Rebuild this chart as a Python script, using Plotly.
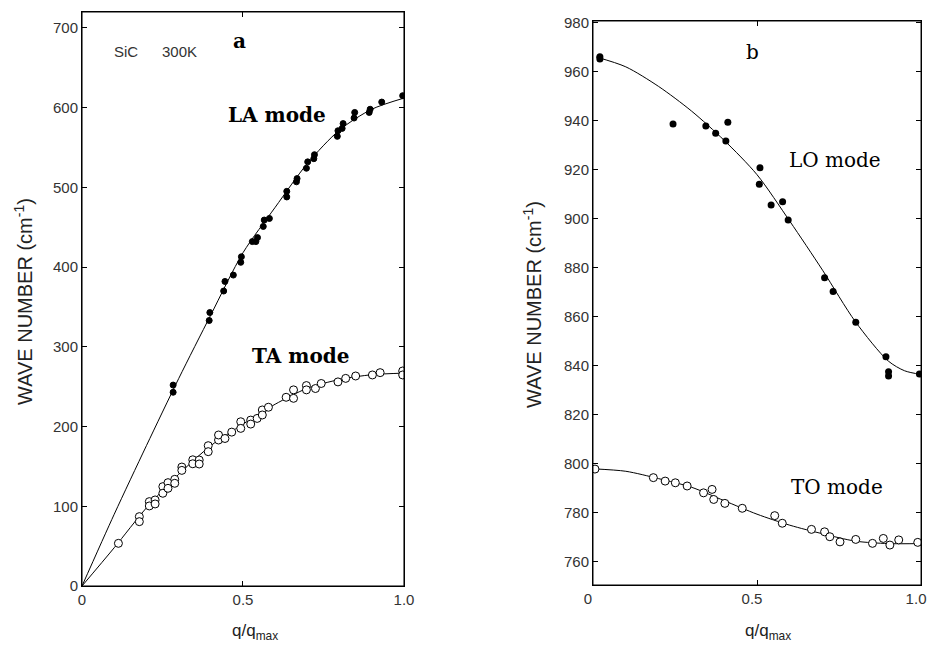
import plotly.graph_objects as go

# ---------------- data: panel a ----------------
la_q = [0.283, 0.283, 0.397, 0.395, 0.44, 0.444, 0.47, 0.493, 0.495, 0.529, 0.54, 0.545,
        0.563, 0.566, 0.582, 0.636, 0.636, 0.666, 0.668, 0.697, 0.701, 0.72, 0.722,
        0.793, 0.795, 0.808, 0.811, 0.845, 0.847, 0.892, 0.895, 0.931, 0.996]
la_v = [252, 243, 343, 333, 370, 382, 390, 406, 413, 432, 432, 437,
        451, 459, 461, 488, 495, 507, 511, 524, 532, 536, 541,
        564, 571, 574, 580, 587, 594, 594, 598, 607, 615]
la_fit_q = [0, 0.1, 0.2, 0.3, 0.4, 0.5, 0.6, 0.7, 0.8, 0.9, 1.0]
la_fit_v = [0, 90, 176, 260, 340, 418, 475, 530, 572, 598, 612]

ta_q = [0.113, 0.178, 0.178, 0.209, 0.209, 0.227, 0.227, 0.251, 0.251, 0.267, 0.267,
        0.288, 0.288, 0.31, 0.31, 0.344, 0.344, 0.364, 0.364, 0.392, 0.392, 0.424, 0.424,
        0.444, 0.465, 0.493, 0.493, 0.524, 0.524, 0.544, 0.56, 0.56, 0.579, 0.634,
        0.657, 0.657, 0.697, 0.697, 0.725, 0.743, 0.795, 0.819, 0.85, 0.902, 0.926,
        0.996, 0.996]
ta_v = [53.5, 87, 80.7, 105.8, 100.4, 107.9, 102.9, 124.6, 116.3, 129.6, 122.5,
        133.8, 128.8, 149.2, 145, 158.3, 153.3, 158, 153, 176, 168.5, 183.1, 189.4,
        185, 193, 206, 197.7, 208.1, 203.1, 210.2, 220.8, 214.5, 224.2, 236.7,
        246, 235.4, 251.4, 246, 247.7, 254, 256, 260.4, 263.4, 264.7, 267.6,
        269.7, 264.7]
ta_fit_q = [0, 0.1, 0.2, 0.3, 0.4, 0.5, 0.6, 0.7, 0.8, 0.9, 1.0]
ta_fit_v = [0, 48, 98, 140, 176, 203, 228, 248, 259, 265, 267]

# ---------------- data: panel b ----------------
lo_q = [0.021, 0.021, 0.244, 0.344, 0.374, 0.405, 0.411, 0.509, 0.507, 0.543, 0.578,
        0.595, 0.706, 0.732, 0.801, 0.893, 0.901, 0.901, 0.995]
lo_v = [966.1, 965.2, 938.7, 937.9, 934.9, 931.7, 939.4, 920.8, 914.1, 905.6, 907,
        899.5, 876, 870.3, 857.8, 843.7, 837.6, 835.9, 836.7]
lo_fit_q = [0.01, 0.1, 0.2, 0.3, 0.4, 0.5, 0.6, 0.7, 0.8, 0.9, 0.95, 1.0]
lo_fit_v = [966, 962, 954, 944, 932, 918, 899, 879, 858, 842, 838, 836.5]

to_q = [0.006, 0.184, 0.22, 0.251, 0.287, 0.337, 0.363, 0.368, 0.402, 0.455, 0.554,
        0.577, 0.666, 0.706, 0.722, 0.753, 0.801, 0.852, 0.885, 0.905, 0.932, 0.99]
to_v = [797.9, 794.4, 793, 792.3, 791, 788.2, 789.6, 785.5, 783.9, 781.9, 778.9,
        775.8, 773.3, 772.3, 770.3, 768.2, 769.2, 767.6, 769.6, 766.9, 769, 768]
to_fit_q = [0, 0.1, 0.2, 0.3, 0.4, 0.5, 0.6, 0.7, 0.8, 0.9, 1.0]
to_fit_v = [798, 797, 794, 790.5, 785, 779.5, 775, 771.5, 768.5, 767.5, 767.5]

x_tickvals = [0, 0.5, 1.0]
x_ticktext = ["0", "0.5", "1.0"]
a_yticks = [0, 100, 200, 300, 400, 500, 600, 700]
b_yticks = [760, 780, 800, 820, 840, 860, 880, 900, 920, 940, 960, 980]
a_yrange = [0, 720]
b_yrange = [750.6, 980.7]
x_range = [0, 1.0]

fig = go.Figure()

line_style = dict(color="black", width=1, shape="spline", smoothing=0.8)
filled = dict(color="black", size=6, line=dict(color="black", width=1))
openm = dict(color="white", size=8, line=dict(color="black", width=1))

fig.add_trace(go.Scatter(x=la_fit_q, y=la_fit_v, mode="lines", line=line_style,
                         xaxis="x", yaxis="y", hoverinfo="skip"))
fig.add_trace(go.Scatter(x=ta_fit_q, y=ta_fit_v, mode="lines", line=line_style,
                         xaxis="x", yaxis="y", hoverinfo="skip"))
fig.add_trace(go.Scatter(x=la_q, y=la_v, mode="markers", marker=filled,
                         xaxis="x", yaxis="y", name="LA"))
fig.add_trace(go.Scatter(x=ta_q, y=ta_v, mode="markers", marker=openm,
                         xaxis="x", yaxis="y", name="TA"))

fig.add_trace(go.Scatter(x=lo_fit_q, y=lo_fit_v, mode="lines", line=line_style,
                         xaxis="x2", yaxis="y2", hoverinfo="skip"))
fig.add_trace(go.Scatter(x=to_fit_q, y=to_fit_v, mode="lines", line=line_style,
                         xaxis="x2", yaxis="y2", hoverinfo="skip"))
fig.add_trace(go.Scatter(x=lo_q, y=lo_v, mode="markers", marker=dict(color="black", size=7),
                         xaxis="x2", yaxis="y2", name="LO"))
fig.add_trace(go.Scatter(x=to_q, y=to_v, mode="markers", marker=openm,
                         xaxis="x2", yaxis="y2", name="TO"))

# empty traces so the mirrored tick axes are drawn
fig.add_trace(go.Scatter(x=[], y=[], xaxis="x3", yaxis="y3", hoverinfo="skip"))
fig.add_trace(go.Scatter(x=[], y=[], xaxis="x4", yaxis="y4", hoverinfo="skip"))

tickfont = dict(family="Liberation Sans, Arial, sans-serif", size=15, color="#333")
common_x = dict(range=x_range, tickvals=x_tickvals, ticktext=x_ticktext, ticks="inside",
                ticklen=5, tickcolor="black", showline=True, linecolor="black", linewidth=1,
                showgrid=False, zeroline=False, tickfont=tickfont, automargin=False,
                ticklabeloverflow="allow")
common_y = dict(ticks="inside", ticklen=5, tickcolor="black", showline=True, linecolor="black",
                linewidth=1, showgrid=False, zeroline=False, tickfont=tickfont,
                automargin=False)
mirror_common = dict(ticks="inside", ticklen=5, tickcolor="black", showline=True,
                     linecolor="black", linewidth=1, showgrid=False, zeroline=False,
                     showticklabels=False, automargin=False)

dom_ax = [0.0884, 0.4353]
dom_ay = [0.0957, 0.9815]
dom_bx = [0.639, 0.9925]
dom_by = [0.0972, 0.9676]

fig.update_layout(
    width=928, height=648,
    margin=dict(l=0, r=0, t=0, b=0),
    paper_bgcolor="white", plot_bgcolor="white",
    showlegend=False,
    xaxis=dict(domain=dom_ax, anchor="y", **common_x),
    yaxis=dict(domain=dom_ay, anchor="x", range=a_yrange, tickvals=a_yticks, **common_y),
    xaxis2=dict(domain=dom_bx, anchor="y2", ticklabelshift=-5, **common_x),
    yaxis2=dict(domain=dom_by, anchor="x2", range=b_yrange, tickvals=b_yticks, **common_y),
    xaxis3=dict(overlaying="x", side="top", anchor="y3", range=x_range, tickvals=x_tickvals,
                **mirror_common),
    yaxis3=dict(overlaying="y", side="right", anchor="x3", range=a_yrange, tickvals=a_yticks,
                **mirror_common),
    xaxis4=dict(overlaying="x2", side="top", anchor="y4", range=x_range, tickvals=x_tickvals,
                **mirror_common),
    yaxis4=dict(overlaying="y2", side="right", anchor="x4", range=b_yrange, tickvals=b_yticks,
                **mirror_common),
)

# full frame boxes
for xr, yr in (("x domain", "y domain"), ("x2 domain", "y2 domain")):
    fig.add_shape(type="rect", xref=xr, yref=yr, x0=0, x1=1, y0=0, y1=1,
                  line=dict(color="black", width=1), fillcolor="rgba(0,0,0,0)", layer="above")

serif_bold = dict(family="DejaVu Serif, serif", size=20, color="black")
serif_reg = dict(family="DejaVu Serif, serif", size=20, color="black")
sans = dict(family="Liberation Sans, Arial, sans-serif", size=15, color="#333")
title_font = dict(family="Liberation Sans, Arial, sans-serif", size=20, color="#222")

ann = [
    dict(x=0.138, y=670, xref="x", yref="y", text="SiC", font=sans),
    dict(x=0.303, y=670, xref="x", yref="y", text="300K", font=sans),
    dict(x=0.49, y=683, xref="x", yref="y", text="<b>a</b>", font=serif_bold),
    dict(x=0.606, y=591, xref="x", yref="y", text="<b>LA mode</b>", font=serif_bold),
    dict(x=0.678, y=288, xref="x", yref="y", text="<b>TA mode</b>", font=serif_bold),
    dict(x=0.485, y=968, xref="x2", yref="y2", text="b", font=serif_reg),
    dict(x=0.737, y=924, xref="x2", yref="y2", text="LO mode", font=serif_reg),
    dict(x=0.743, y=790.7, xref="x2", yref="y2", text="TO mode", font=serif_reg),
    dict(x=23 / 928, y=1 - 302 / 648, xref="paper", yref="paper",
         text="WAVE NUMBER (cm<sup>-1</sup>)", textangle=-90, font=title_font),
    dict(x=532 / 928, y=1 - 305 / 648, xref="paper", yref="paper",
         text="WAVE NUMBER (cm<sup>-1</sup>)", textangle=-90, font=title_font),
    dict(x=255 / 928, y=1 - 632 / 648, xref="paper", yref="paper",
         text="q/q<sub>max</sub>", font=dict(title_font, size=17)),
    dict(x=768 / 928, y=1 - 632 / 648, xref="paper", yref="paper",
         text="q/q<sub>max</sub>", font=dict(title_font, size=17)),
]
for a in ann:
    a.setdefault("showarrow", False)
    a.setdefault("xanchor", "center")
    a.setdefault("yanchor", "middle")
fig.update_layout(annotations=ann)

fig.write_html("out.html", config={"displayModeBar": False},
               post_script="document.body.style.margin='0';document.body.style.overflow='hidden';")
